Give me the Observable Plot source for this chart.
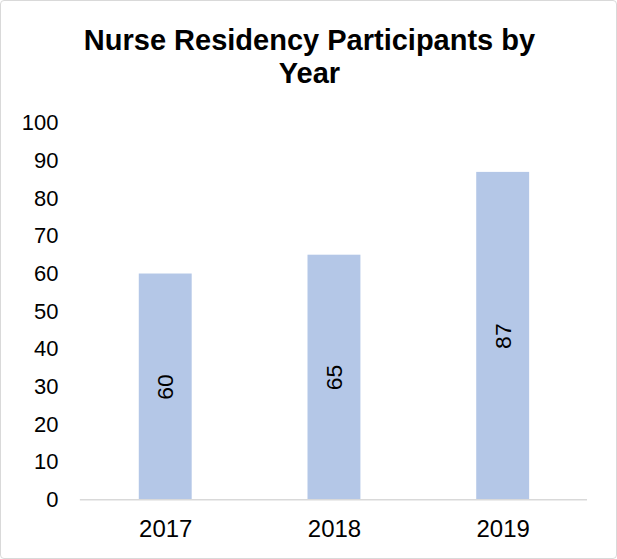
<!DOCTYPE html>
<html>
<head>
<meta charset="utf-8">
<script src="https://cdn.jsdelivr.net/npm/d3@7"></script>
<script src="https://cdn.jsdelivr.net/npm/@observablehq/plot@0.6"></script>
<style>
  html, body { margin: 0; padding: 0; background: #fff; }
  #frame {
    position: relative;
    width: 617px; height: 559px; box-sizing: border-box;
    border: 1px solid #d9d9d9; border-radius: 4px; overflow: hidden;
    font-family: "Liberation Sans", Arial, sans-serif;
  }
  #title {
    position: absolute; left: 0; top: 23px; width: 617px;
    text-align: center; font-weight: bold; font-size: 29px; line-height: 33px; color: #000;
  }
  #chart { position: absolute; left: -1px; top: 99px; }
</style>
</head>
<body>
<div id="frame">
  <div id="title">Nurse Residency Participants by<br>Year</div>
  <div id="chart"></div>
</div>
<script>
const years = ["2017", "2018", "2019"];
const participants = [60, 65, 87];
const yTicks = [0, 10, 20, 30, 40, 50, 60, 70, 80, 90, 100];

const data = years.map((y, i) => ({year: y, value: participants[i]}));

const chart = Plot.plot({
  width: 617,
  height: 458,
  marginLeft: 80,
  marginRight: 29,
  marginTop: 23,
  marginBottom: 58,
  style: {fontFamily: "'Liberation Sans', Arial, sans-serif", fontSize: "22px", color: "#000", background: "transparent"},
  x: {domain: years, paddingInner: 0.687, paddingOuter: 0.3435, label: null},
  y: {domain: [0, 100], label: null},
  marks: [
    Plot.barY(data, {x: "year", y: "value", fill: "#b4c7e7"}),
    Plot.ruleY([0], {stroke: "#d9d9d9", strokeWidth: 1.5}),
    Plot.axisY(yTicks, {tickSize: 0, tickPadding: 22, fontSize: 22, label: null}),
    Plot.axisX({tickSize: 0, tickPadding: 20, fontSize: 24, label: null}),
    Plot.text(data, {x: "year", y: d => d.value / 2, text: d => String(d.value), rotate: -90, fontSize: 23, fill: "#000"})
  ]
});
document.getElementById("chart").appendChild(chart);
</script>
</body>
</html>
